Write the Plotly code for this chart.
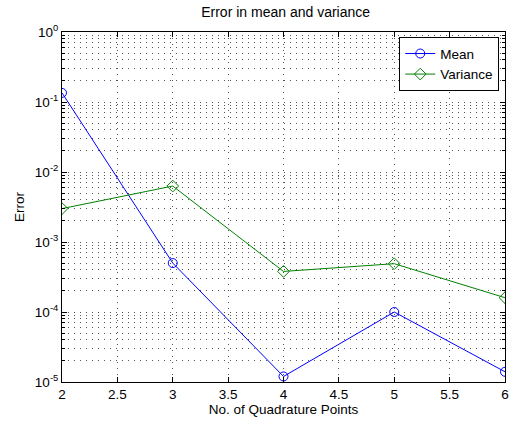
import plotly.graph_objects as go

x_points = [2, 3, 4, 5, 6]
mean_err = [0.135, 5.0e-4, 1.2e-5, 1.0e-4, 1.4e-5]
var_err = [3.0e-3, 6.3e-3, 3.8e-4, 4.9e-4, 1.6e-4]
y_tick_vals = [1e-5, 1e-4, 1e-3, 1e-2, 1e-1, 1]
y_tick_text = ["10<sup>-5</sup>", "10<sup>-4</sup>", "10<sup>-3</sup>", "10<sup>-2</sup>", "10<sup>-1</sup>", "10<sup>0</sup>"]
x_tick_vals = [2, 2.5, 3, 3.5, 4, 4.5, 5, 5.5, 6]
x_tick_text = ["2", "2.5", "3", "3.5", "4", "4.5", "5", "5.5", "6"]

fig = go.Figure()
fig.add_trace(go.Scatter(x=x_points, y=mean_err, mode="lines+markers", name="Mean",
                         line=dict(color="#0000ff", width=1),
                         marker=dict(symbol="circle-open", size=9, color="#0000ff", line=dict(width=1))))
fig.add_trace(go.Scatter(x=x_points, y=var_err, mode="lines+markers", name="Variance",
                         line=dict(color="#008000", width=1),
                         marker=dict(symbol="diamond-open", size=9, color="#008000", line=dict(width=1))))

fam = "Liberation Sans, Arial, sans-serif"
grid_col = "#555555"
grid_dash = "1px,5px"
fig.update_layout(
    width=517, height=422,
    margin=dict(l=62, r=8, t=32, b=39),
    paper_bgcolor="white", plot_bgcolor="white",
    font=dict(family=fam, size=13.5, color="#000"),
    title=dict(text="Error in mean and variance", x=0.5525, xanchor="center", y=0.972, yanchor="middle",
               font=dict(size=14, family=fam, color="#000")),
    legend=dict(x=0.987, y=0.985, xanchor="right", yanchor="top", bgcolor="white",
                bordercolor="black", borderwidth=1, font=dict(size=13.5), tracegroupgap=0,
                itemwidth=30),
    showlegend=True,
)
fig.update_xaxes(range=[2, 6], tickvals=x_tick_vals, ticktext=x_tick_text,
                 showline=True, linecolor="black", linewidth=1, mirror="ticks",
                 ticks="inside", ticklen=5, tickcolor="black",
                 showgrid=True, gridcolor=grid_col, griddash=grid_dash, gridwidth=1,
                 zeroline=False,
                 title=dict(text="No. of Quadrature Points", standoff=2, font=dict(size=13.5)))
fig.update_yaxes(type="log", range=[-5, 0], tickvals=y_tick_vals, ticktext=y_tick_text,
                 showline=True, linecolor="black", linewidth=1, mirror="ticks",
                 ticks="inside", ticklen=5, tickcolor="black",
                 showgrid=True, gridcolor=grid_col, griddash=grid_dash, gridwidth=1,
                 minor=dict(dtick="D1", showgrid=True, gridcolor=grid_col, griddash=grid_dash,
                            ticks="inside", ticklen=3, tickcolor="black"),
                 zeroline=False,
                 title=dict(text="Error", standoff=7, font=dict(size=13.5)))

fig.write_html("out.html")
